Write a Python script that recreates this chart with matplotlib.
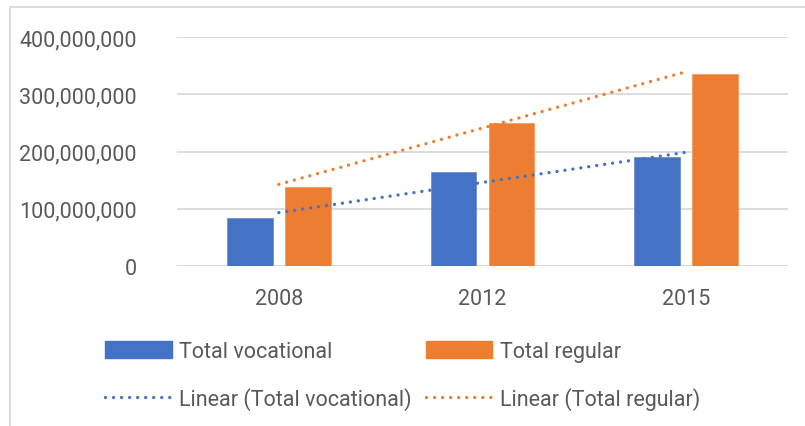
import matplotlib
matplotlib.use("Agg")
import matplotlib.pyplot as plt
from matplotlib.patches import Patch, Rectangle
from matplotlib.lines import Line2D
from matplotlib.ticker import FuncFormatter
import numpy as np

plt.rcParams['font.family'] = ['Roboto', 'DejaVu Sans']

years = ['2008', '2012', '2015']
vocational = [84.4e6, 163.6e6, 189.8e6]
regular = [138.5e6, 249.2e6, 335.3e6]

blue = '#4472C4'
orange = '#ED7D31'
grey_txt = '#595959'
grid_c = '#d9d9d9'

W, H = 805, 427
fig = plt.figure(figsize=(W / 100, H / 100), dpi=100)
ax = fig.add_axes([177 / W, 1 - 267 / H, (788 - 177) / W, (267 - 38) / H])

x = np.arange(len(years))
bw = 0.225
off = 0.142
ax.bar(x - off, vocational, bw, color=blue, edgecolor='#6f8fd0', linewidth=0.6, zorder=2)
ax.bar(x + off, regular, bw, color=orange, edgecolor='#f29a60', linewidth=0.6, zorder=2)

# linear trendlines like excel (fit on category index)
lw_t = 2.4
dots = (0, (0.01, 2.4))
for vals, c in [(vocational, blue), (regular, orange)]:
    k, b = np.polyfit(x, vals, 1)
    ax.plot([x[0], x[-1]], [k * x[0] + b, k * x[-1] + b], color=c, lw=lw_t,
            linestyle=dots, dash_capstyle='round', zorder=3)

ax.set_xlim(-0.5, 2.5)
ax.set_ylim(0, 400e6)
ax.set_yticks(np.arange(0, 400e6 + 1, 100e6))
ax.yaxis.set_major_formatter(FuncFormatter(lambda v, p: f'{int(v):,}'))
ax.set_xticks(x)
ax.set_xticklabels(years)
ax.grid(axis='y', color=grid_c, lw=1.3, zorder=0)
ax.set_axisbelow(True)
for s in ax.spines.values():
    s.set_visible(False)
ax.tick_params(length=0, labelsize=15.5, colors=grey_txt)
ax.tick_params(axis='y', pad=29)
ax.tick_params(axis='x', pad=16)

handles = [
    Patch(color=blue),
    Line2D([0], [0], color=blue, lw=lw_t, linestyle=dots, dash_capstyle='round'),
    Patch(color=orange),
    Line2D([0], [0], color=orange, lw=lw_t, linestyle=dots, dash_capstyle='round'),
]
labels = ['Total vocational', 'Linear (Total vocational)',
          'Total regular', 'Linear (Total regular)']
leg = fig.legend(handles, labels, ncol=2, loc='upper left',
                 bbox_to_anchor=(105 / W, 1 - 342 / H), frameon=False,
                 fontsize=15.5, handlelength=3.1, handleheight=0.8,
                 handletextpad=0.35, columnspacing=0.64, labelspacing=1.15,
                 borderaxespad=0, borderpad=0)
for t in leg.get_texts():
    t.set_color(grey_txt)

fig.add_artist(Rectangle((10 / W, -0.2), 1.2, 1.2 - 8 / H, transform=fig.transFigure,
                         fill=False, edgecolor=grid_c, lw=1.3))

fig.savefig('out.png', dpi=100)
